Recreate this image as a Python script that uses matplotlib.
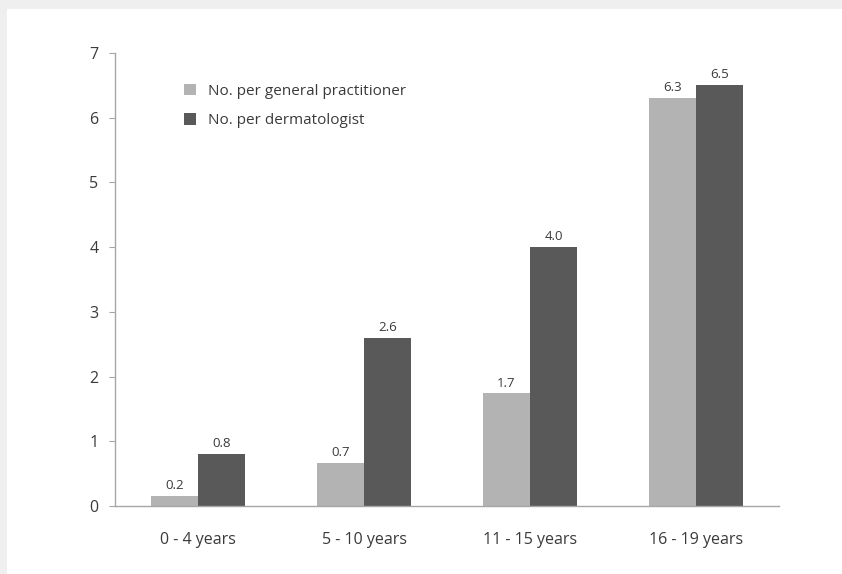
import matplotlib

matplotlib.use("Agg")

import matplotlib.pyplot as plt
import numpy as np
from matplotlib.patches import Rectangle

categories = ["0 - 4 years", "5 - 10 years", "11 - 15 years", "16 - 19 years"]
gp_values = [0.15, 0.66, 1.74, 6.3]
gp_labels = ["0.2", "0.7", "1.7", "6.3"]
derm_values = [0.8, 2.6, 4.0, 6.5]
derm_labels = ["0.8", "2.6", "4.0", "6.5"]
series_names = ["No. per general practitioner", "No. per dermatologist"]

GP_COLOR = "#b3b3b3"
DERM_COLOR = "#595959"
TEXT = "#3a3a3a"
AXIS = "#a6a6a6"

plt.rcParams["font.family"] = ["Open Sans", "DejaVu Sans"]

fig = plt.figure(figsize=(8.42, 5.74), dpi=100)
fig.patch.set_facecolor("white")
# light grey frame on top and left edges
fig.patches.append(Rectangle((0, 0), 7 / 842, 1, transform=fig.transFigure,
                             facecolor="#efefef", edgecolor="none", zorder=0))
fig.patches.append(Rectangle((0, 1 - 9 / 574), 1, 9 / 574, transform=fig.transFigure,
                             facecolor="#efefef", edgecolor="none", zorder=0))

ax = fig.add_axes([115 / 842, 1 - 506 / 574, (779 - 115) / 842, (506 - 53) / 574])
x = np.arange(len(categories))
width = 0.285

ax.bar(x - width / 2, gp_values, width, color=GP_COLOR, label=series_names[0], zorder=2)
ax.bar(x + width / 2, derm_values, width, color=DERM_COLOR, label=series_names[1], zorder=2)

for xi, v, lab in zip(x, gp_values, gp_labels):
    ax.text(xi - width / 2, v + 0.06, lab, ha="center", va="bottom", fontsize=9.5, color=TEXT)
for xi, v, lab in zip(x, derm_values, derm_labels):
    ax.text(xi + width / 2, v + 0.06, lab, ha="center", va="bottom", fontsize=9.5, color=TEXT)

ax.set_xlim(-0.5, len(categories) - 0.5)
ax.set_ylim(0, 7)
ax.set_yticks(range(8))
ax.set_xticks(x)
ax.set_xticklabels(categories)

for side in ["top", "right"]:
    ax.spines[side].set_visible(False)
for side in ["left", "bottom"]:
    ax.spines[side].set_color(AXIS)
    ax.spines[side].set_linewidth(1.0)

ax.tick_params(axis="y", colors=AXIS, labelcolor=TEXT, labelsize=11.5, length=4, pad=8)
ax.tick_params(axis="x", length=0, labelcolor=TEXT, labelsize=11.5, pad=19)

leg = ax.legend(loc="upper left", bbox_to_anchor=(0.083, 0.963), frameon=False,
                fontsize=11, handlelength=0.8, handleheight=0.8,
                handletextpad=0.75, labelspacing=0.95, labelcolor=TEXT)

fig.savefig("out.png", dpi=100)
